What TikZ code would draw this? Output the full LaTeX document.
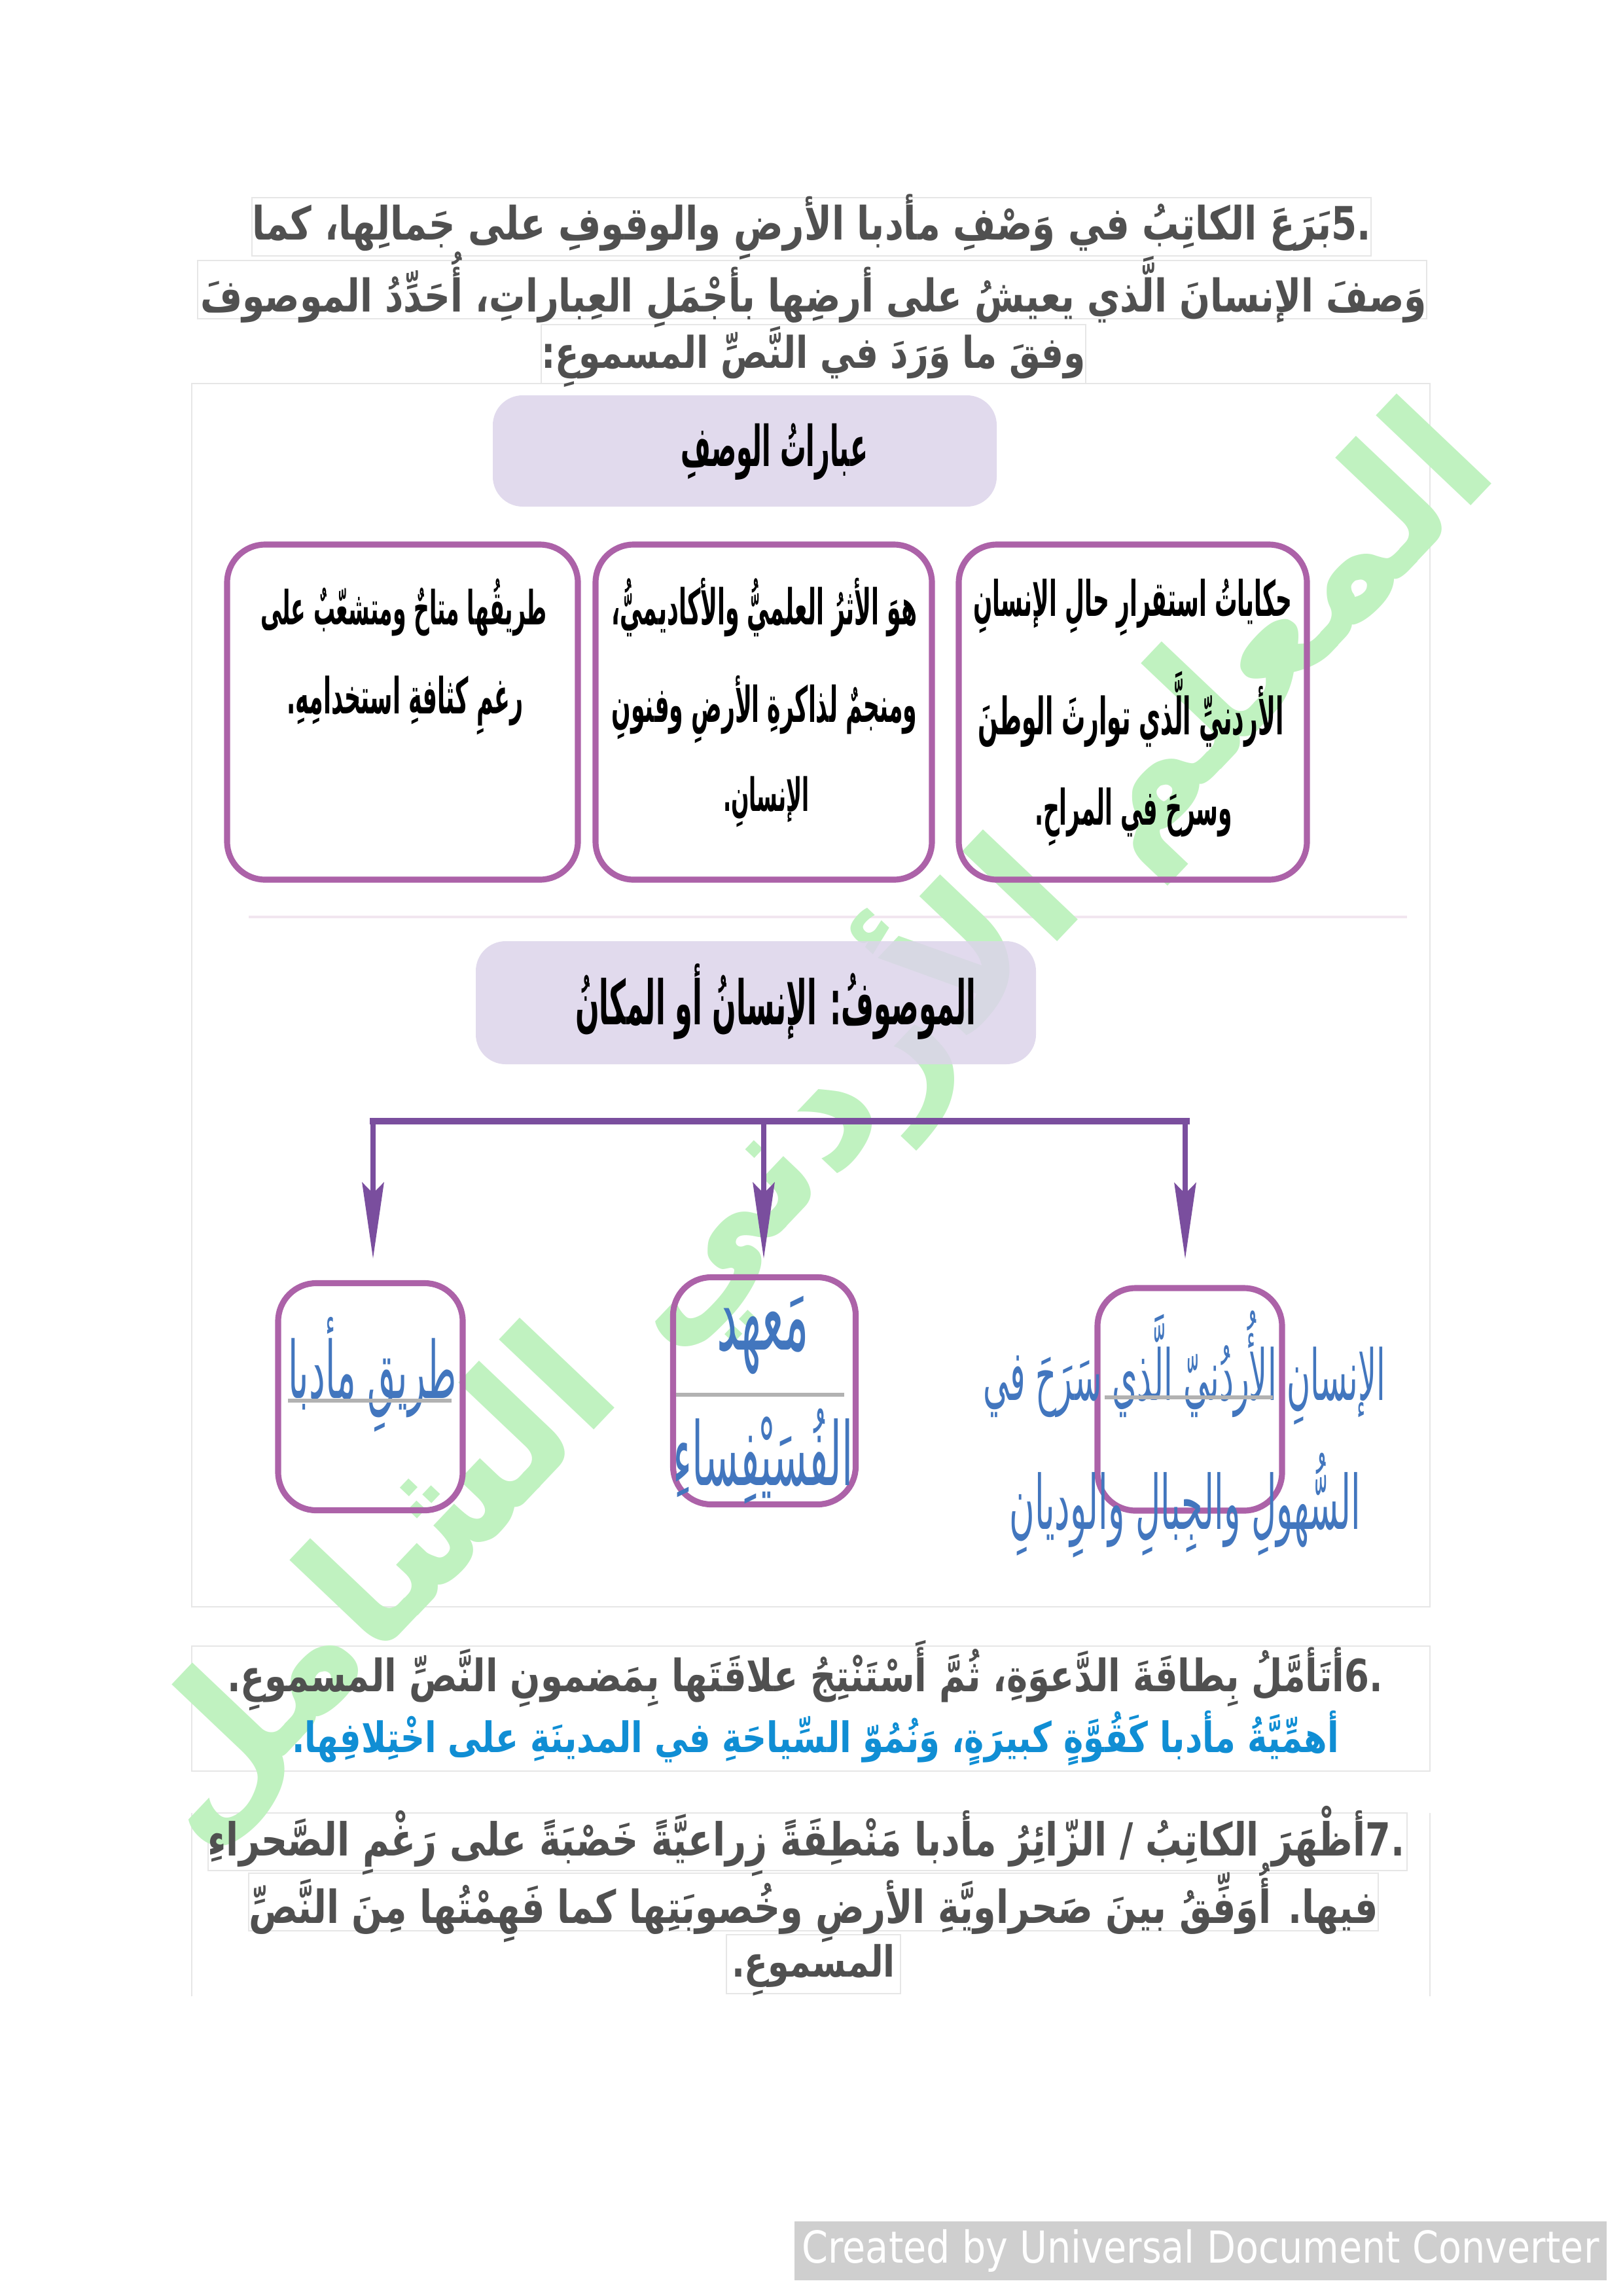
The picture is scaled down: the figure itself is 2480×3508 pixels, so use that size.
\documentclass[tikz,border=0pt]{standalone}
\usepackage{fontspec}
\usetikzlibrary{arrows.meta}
\TeXXeTstate=1
\newfontfamily\arb[Script=Arabic]{DejaVu Sans}
\newfontfamily\arbq[Script=Arabic,FakeStretch=0.8]{DejaVu Sans}
\newfontfamily\arbc[Script=Arabic,FakeStretch=0.46]{DejaVu Sans}
\newfontfamily\latc[FakeStretch=0.85]{DejaVu Sans}
\newlength\pxu \setlength\pxu{0.0846667mm}
\newlength\natw
% set #2 at a real font size chosen so that its width is #1 px
\newcommand\fitbox[2]{%
  \settowidth\natw{\fontsize{10}{12}\selectfont #2}%
  \pgfmathsetmacro\fitsz{#1*\pxu/\natw*10}%
  \fontsize{\fitsz pt}{\fitsz pt}\selectfont #2}
\definecolor{qgray}{RGB}{80,80,80}
\definecolor{lav}{RGB}{220,212,234}
\definecolor{boxpurple}{RGB}{172,98,168}
\definecolor{arrpurple}{RGB}{122,78,158}
\definecolor{dblue}{RGB}{66,118,190}
\definecolor{ansblue}{RGB}{16,142,212}
\definecolor{ulgray}{RGB}{178,178,178}
\definecolor{wmgreen}{RGB}{192,242,192}
\definecolor{framegray}{RGB}{230,230,230}
\definecolor{bannergray}{RGB}{207,207,207}
\begin{document}
\begin{tikzpicture}[x=0.0846667mm,y=-0.0846667mm,
  qline/.style={inner sep=0pt, text=qgray, font=\arbq\bfseries},
  ansline/.style={inner sep=0pt, text=ansblue, font=\arbq\bfseries},
  wm/.style={inner sep=0pt, text=wmgreen, font=\arb\bfseries},
  frame/.style={draw=framegray, line width=0.5pt},
  pill/.style={fill=lav, fill opacity=0.85, rounded corners=11pt, inner sep=0pt},
  pilltext/.style={inner sep=0pt, text=black, font=\arbc\bfseries},
  dbox/.style={draw=boxpurple, line width=2.2pt, rounded corners=14pt, inner sep=0pt},
  btext/.style={inner sep=0pt, text=black, font=\arbc\bfseries},
  bluetext/.style={inner sep=0pt, text=dblue, font=\arbc},
  ul/.style={draw=ulgray, line width=1.4pt},
  bar/.style={draw=arrpurple, line width=2.6pt},
  arr/.style={draw=arrpurple, line width=1.7pt, -{Stealth[length=28pt,width=8pt,inset=4pt]}},
  banner/.style={fill=bannergray, inner sep=0pt, text=white, font=\latc}
]
\useasboundingbox (0,0) rectangle (2480,3508);
\fill[white] (0,0) rectangle (2480,3508);

% faint frames
\draw[frame] (385,302) rectangle (2095,391);
\draw[frame] (302,398) rectangle (2180,487);
\draw[frame] (827,496) rectangle (1659,586);
\draw[frame] (293,586) rectangle (2185,2455);
\draw[frame] (293,2515) rectangle (2185,2706);
\draw[frame] (293,2770) -- (293,3050);
\draw[frame] (2185,2770) -- (2185,3050);
\draw[frame] (318,2770) rectangle (2150,2858);
\draw[frame] (380,2862) rectangle (2106,2950);
\draw[frame] (1110,2956) rectangle (1376,3046);
\draw[draw={rgb,255:red,242;green,230;blue,240}, line width=1pt] (380,1401) -- (2150,1401);

% watermark
\node[wm, rotate=46.5] (wm) at (1230,1711) {\fitbox{2900}{\beginR المعلم الأردني الشامل\endR}};

% question 5
\node[qline] (q5a) at (1240,347) {\fitbox{1710}{\beginR .\kern0pt 5\kern0pt بَرَعَ الكاتِبُ في وَصْفِ مأدبا الأرضِ والوقوفِ على جَمالِها، كما\endR}};
\node[qline] (q5b) at (1243,443) {\fitbox{1874}{\beginR وَصفَ الإنسانَ الَّذي يعيشُ على أرضِها بأجْمَلِ العِباراتِ، أُحَدِّدُ الموصوفَ\endR}};
\node[qline] (q5c) at (1243,545) {\fitbox{832}{\beginR وفقَ ما وَرَدَ في النَّصِّ المسموعِ\kern0pt:\endR}};

% top pill
\node[pill, minimum width=770\pxu, minimum height=170\pxu] (pillA) at (1138,689) {};
\node[pilltext] (pillAt) at (1183,690) {\fitbox{286}{\beginR عباراتُ الوصفِ\endR}};

% three description boxes
\node[dbox, minimum width=532\pxu, minimum height=512\pxu] (boxR) at (1731,1088) {};
\node[dbox, minimum width=514\pxu, minimum height=512\pxu] (boxM) at (1167,1088) {};
\node[dbox, minimum width=536\pxu, minimum height=512\pxu] (boxLt) at (615,1088) {};

\node[btext] (r1) at (1731,928) {\fitbox{487}{\beginR حكاياتُ استقرارِ حالِ الإنسانِ\endR}};
\node[btext] (r2) at (1728,1084) {\fitbox{467}{\beginR الأردنيِّ الَّذي توارثَ الوطنَ\endR}};
\node[btext] (r3) at (1732,1248) {\fitbox{302}{\beginR وسرحَ في المراحِ\kern0pt.\endR}};

\node[btext] (m1) at (1168,928) {\fitbox{467}{\beginR هوَ الأثرُ العلميُّ والأكاديميُّ\kern0pt،\endR}};
\node[btext] (m2) at (1168,1084) {\fitbox{467}{\beginR ومنجمٌ لذاكرةِ الأرضِ وفنونِ\endR}};
\node[btext] (m3) at (1171,1225) {\fitbox{132}{\beginR الإنسانِ\kern0pt.\endR}};

\node[btext] (l1) at (617,928) {\fitbox{438}{\beginR طريقُها متاحٌ ومتشعّبٌ على\endR}};
\node[btext] (l2) at (619,1078) {\fitbox{362}{\beginR رغمِ كثافةِ استخدامِهِ\kern0pt.\endR}};

% bottom pill
\node[pill, minimum width=856\pxu, minimum height=188\pxu] (pillB) at (1155,1532) {};
\node[pilltext] (pillBt) at (1185,1530) {\fitbox{612}{\beginR الموصوفُ: الإنسانُ أو المكانُ\endR}};

% answer boxes
\node[dbox, minimum width=282\pxu, minimum height=347\pxu] (boxL) at (566,2134) {};
\node[dbox, minimum width=279\pxu, minimum height=347\pxu] (boxC) at (1168,2125) {};
\node[dbox, minimum width=282\pxu, minimum height=340\pxu] (boxRr) at (1818,2138) {};

% connectors
\coordinate (bE1) at (565,1713);
\coordinate (bE2) at (1818,1713);
\coordinate (bL) at (570,1713);
\coordinate (bM) at (1167,1713);
\coordinate (bR) at (1811,1713);
\draw[bar] (bE1) -- (bE2);
\draw[arr, shorten >=33\pxu] (bL) -- (bL |- boxL.north);
\draw[arr, shorten >=24\pxu] (bM) -- (bM |- boxC.north);
\draw[arr, shorten >=40\pxu] (bR) -- (bR |- boxRr.north);

% answer texts
\node[bluetext] (aL) at (569,2100) {\fitbox{258}{\beginR طريقِ مأدبا\endR}};
\draw[ul] (440,2140) -- (690,2140);
\node[bluetext] (aC1) at (1166,2040) {\fitbox{141}{\beginR مَعهد\endR}};
\draw[ul] (1033,2131) -- (1290,2131);
\node[bluetext] (aC2) at (1166,2225) {\fitbox{275}{\beginR الفُسَيْفِساءِ\endR}};
\node[bluetext] (aR1) at (1810,2090) {\fitbox{615}{\beginR الإنسانِ الأُردُنيّ الَّذي سَرَحَ في\endR}};
\draw[ul] (1688,2135) -- (1945,2135);
\node[bluetext] (aR2) at (1811,2300) {\fitbox{537}{\beginR السُّهولِ والجِبالِ والوِديانِ\endR}};

% question 6
\node[qline] (q6) at (1230,2560) {\fitbox{1766}{\beginR .\kern0pt 6\kern0pt أتَأمَّلُ بِطاقَةَ الدَّعوَةِ، ثُمَّ أَسْتَنْتِجُ علاقَتَها بِمَضمونِ النَّصِّ المسموعِ\kern0pt.\endR}};
\node[ansline] (a6) at (1246,2656) {\fitbox{1600}{\beginR أهمِّيَّةُ مأدبا كَقُوَّةٍ كبيرَةٍ، وَنُمُوّ السِّياحَةِ في المدينَةِ على اخْتِلافِها\kern0pt.\endR}};

% question 7
\node[qline] (q7a) at (1232,2813) {\fitbox{1829}{\beginR .\kern0pt 7\kern0pt أظْهَرَ الكاتِبُ / الزّائِرُ مأدبا مَنْطِقَةً زِراعيَّةً خَصْبَةً على رَغْمِ الصَّحراءِ\endR}};
\node[qline] (q7b) at (1243,2907) {\fitbox{1726}{\beginR فيها\kern0pt. أُوَفِّقُ بينَ صَحراويَّةِ الأرضِ وخُصوبَتِها كما فَهِمْتُها مِنَ النَّصِّ\endR}};
\node[qline] (q7c) at (1243,3010) {\fitbox{250}{\beginR المسموعِ\kern0pt.\endR}};

% converter banner
\node[banner, minimum width=1241\pxu, minimum height=90\pxu] (ucd) at (1834.5,3439) {\fitbox{1218}{Created by Universal Document Converter}};
\end{tikzpicture}
\end{document}
